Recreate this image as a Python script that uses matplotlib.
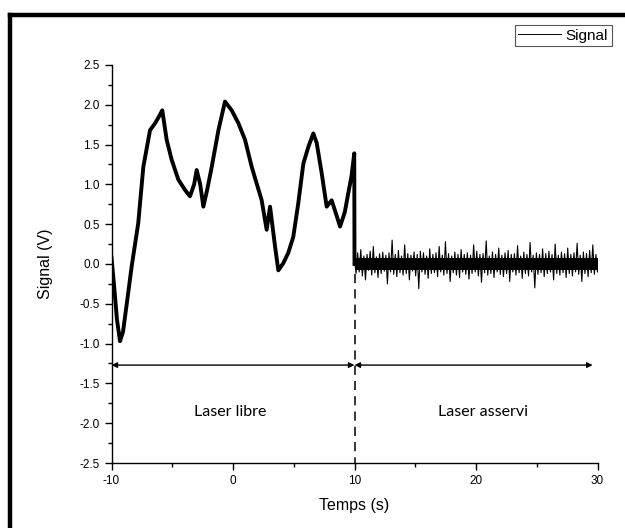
import numpy as np
import matplotlib
matplotlib.use("Agg")
import matplotlib.pyplot as plt
from matplotlib.lines import Line2D
from matplotlib.ticker import MultipleLocator

plt.rcParams["axes.unicode_minus"] = False

# ---- data ----
t_free = [-10.0, -9.8, -9.55, -9.3, -9.05, -8.7, -8.34, -7.8, -7.38, -6.83, -6.4, -6.1, -5.82,
          -5.46, -5.05, -4.5, -3.95, -3.54, -3.2, -2.99, -2.7, -2.44, -2.1, -1.75, -1.2, -0.66,
          -0.11, 0.44, 0.99, 1.54, 1.95, 2.36, 2.77, 3.05, 3.46, 3.73, 4.14, 4.55, 4.96,
          5.37, 5.79, 6.2, 6.61, 6.89, 7.3, 7.71, 8.12, 8.5, 8.81, 9.2, 9.49, 9.75, 9.98, 10.0]
v_free = [0.08, -0.25, -0.7, -0.97, -0.85, -0.45, -0.03, 0.51, 1.22, 1.68, 1.77, 1.85, 1.93,
          1.56, 1.31, 1.06, 0.93, 0.85, 1.0, 1.18, 1.0, 0.72, 0.95, 1.22, 1.68, 2.04,
          1.93, 1.77, 1.56, 1.22, 1.01, 0.80, 0.43, 0.72, 0.22, -0.08, 0.01, 0.14, 0.34,
          0.76, 1.26, 1.47, 1.64, 1.52, 1.14, 0.72, 0.80, 0.62, 0.47, 0.65, 0.89, 1.1, 1.39, 0.0]

v_lock = [0.05, -0.12, 0.14, -0.10, 0.18, -0.15, 0.10, -0.20, 0.12, -0.08, 0.16, -0.14, 0.22, -0.11,
          0.09, -0.17, 0.13, -0.12, 0.15, -0.09, 0.11, -0.25, 0.14, -0.10, 0.30, -0.13, 0.12, -0.16,
          0.17, -0.11, 0.10, -0.14, 0.24, -0.12, 0.13, -0.20, 0.11, -0.09, 0.15, -0.15, 0.12, -0.31,
          0.16, -0.10, 0.14, -0.13, 0.10, -0.18, 0.19, -0.12, 0.12, -0.11, 0.14, -0.16, 0.22, -0.10,
          0.11, -0.14, 0.28, -0.12, 0.13, -0.22, 0.10, -0.11, 0.15, -0.14, 0.12, -0.17, 0.18, -0.10,
          0.12, -0.13, 0.14, -0.19, 0.11, -0.12, 0.24, -0.10, 0.16, -0.15, 0.12, -0.23, 0.13, -0.11,
          0.29, -0.14, 0.10, -0.12, 0.15, -0.17, 0.12, -0.10, 0.20, -0.13, 0.11, -0.16, 0.14, -0.12,
          0.17, -0.22, 0.12, -0.10, 0.13, -0.14, 0.23, -0.11, 0.10, -0.18, 0.15, -0.12, 0.12, -0.15,
          0.27, -0.10, 0.11, -0.30, 0.14, -0.13, 0.12, -0.11, 0.19, -0.16, 0.13, -0.12, 0.16, -0.10,
          0.12, -0.20, 0.25, -0.12, 0.11, -0.14, 0.15, -0.11, 0.13, -0.17, 0.20, -0.12, 0.12, -0.15,
          0.14, -0.10, 0.26, -0.13, 0.11, -0.22, 0.15, -0.12, 0.13, -0.16, 0.17, -0.11, 0.24, -0.13,
          0.12, -0.10]
t_lock = np.linspace(10.0, 30.0, len(v_lock))
lock_band = [-0.075, 0.075]   # dense core of the locked noise

x_ticks = [-10, 0, 10, 20, 30]
y_ticks = [-2.5, -2.0, -1.5, -1.0, -0.5, 0.0, 0.5, 1.0, 1.5, 2.0, 2.5]
arrow_y = -1.27
region_labels = ["Laser libre", "Laser asservi"]
region_x = [-0.2, 20.6]
region_y = -1.86

# ---- figure ----
fig = plt.figure(figsize=(6.25, 5.28), dpi=100)
ax = fig.add_axes([0.1784, 0.1231, 0.956 - 0.1784, 0.877 - 0.1231])

ax.plot(t_free, v_free, color="black", lw=2.8, solid_joinstyle="round")
ax.fill_between([10.0, 30.0], lock_band[0], lock_band[1], color="black", lw=0)
ax.plot(t_lock, v_lock, color="black", lw=0.8)

ax.set_xlim(-10, 30)
ax.set_ylim(-2.5, 2.5)
ax.set_xticks(x_ticks)
ax.set_yticks(y_ticks)
ax.set_yticklabels([f"{v:.1f}" for v in y_ticks])
ax.xaxis.set_minor_locator(MultipleLocator(5))
ax.yaxis.set_minor_locator(MultipleLocator(0.25))
for s in ["top", "right"]:
    ax.spines[s].set_visible(False)
for s in ["left", "bottom"]:
    ax.spines[s].set_linewidth(1.0)
ax.tick_params(which="major", direction="out", length=5, width=1.0,
               labelsize=8.5, labelfontfamily="Liberation Sans")
ax.tick_params(which="minor", direction="out", length=3, width=1.0)

ax.set_xlabel("Temps (s)", fontsize=11.5, family="Liberation Sans", labelpad=8)
ax.set_ylabel("Signal (V)", fontsize=11.5, family="Liberation Sans", labelpad=19)

# dashed separator
ax.plot([10, 10], [-0.12, -2.5], color="black", lw=1.1, ls=(0, (6, 4)), clip_on=False)

# double arrows
for x0, x1 in [(-10, 10), (10, 29.6)]:
    ax.annotate("", xy=(x1, arrow_y), xytext=(x0, arrow_y),
                arrowprops=dict(arrowstyle="<|-|>", color="black", lw=1.0,
                                mutation_scale=8, shrinkA=0, shrinkB=0))

for lab, xx in zip(region_labels, region_x):
    ax.text(xx, region_y, lab, ha="center", va="center", fontsize=11.5, family="Lato")

# legend
h = Line2D([], [], color="black", lw=0.7)
leg = fig.legend([h], ["Signal"], loc="upper right", bbox_to_anchor=(0.979, 0.953),
                 prop={"family": "Liberation Sans", "size": 11}, fancybox=False,
                 handlelength=2.8, handletextpad=0.3, borderpad=0.25, borderaxespad=0,
                 framealpha=1)
leg.get_frame().set_edgecolor("#555555")
leg.get_frame().set_linewidth(0.8)

# outer thick frame (left and top)
yb = 1 - 14.5 / 528
xb = 10 / 625
fig.add_artist(Line2D([xb, xb], [0, yb], color="black", lw=3.2, transform=fig.transFigure,
                      solid_capstyle="projecting"))
fig.add_artist(Line2D([xb, 1], [yb, yb], color="black", lw=3.2, transform=fig.transFigure,
                      solid_capstyle="projecting"))

fig.savefig("out.png", dpi=100)
